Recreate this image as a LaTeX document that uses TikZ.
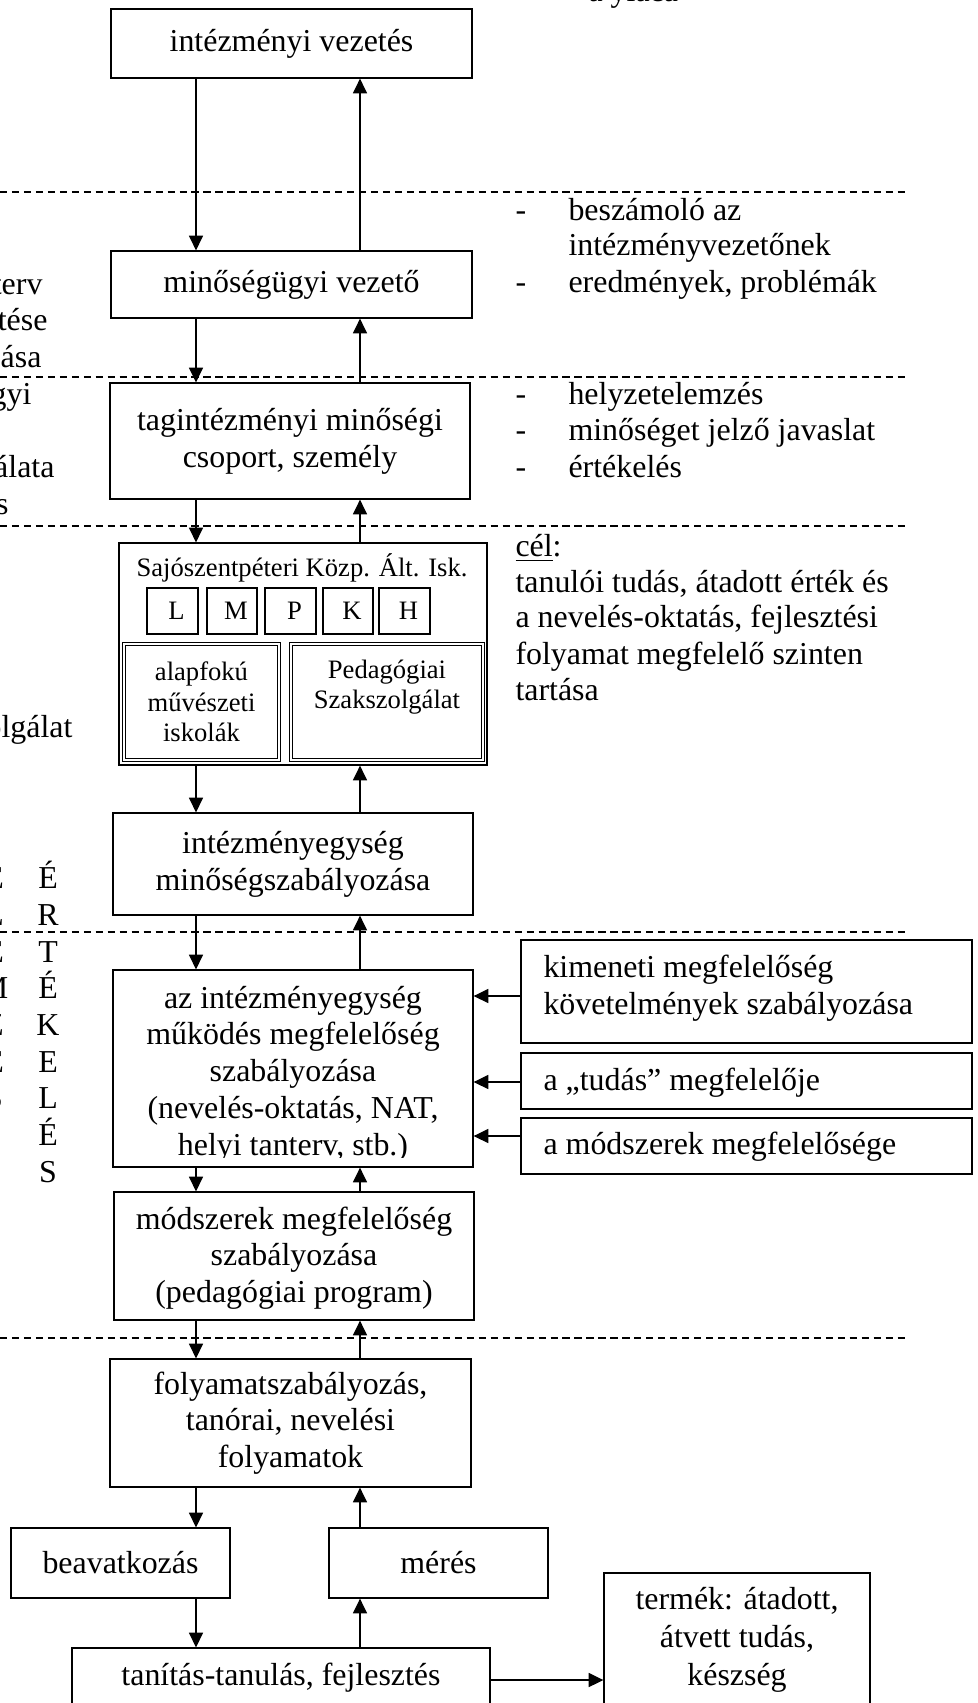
\documentclass[tikz,border=0pt]{standalone}
\usepackage{fontspec}
\setmainfont{Liberation Serif}
\usetikzlibrary{arrows.meta}
\def\U{0.376pt}
\begin{document}
\begin{tikzpicture}[x=0.376pt,y=-0.376pt,
  bx/.style={draw,line width=0.5pt,inner sep=0pt,align=center,font=\fontsize{12}{13.8}\selectfont},
  txt/.style={inner sep=0pt,align=center,font=\fontsize{12}{13.8}\selectfont},
  ltxt/.style={inner sep=0pt,align=left,font=\fontsize{12}{13.8}\selectfont},
  sm/.style={inner sep=0pt,align=center,font=\fontsize{10}{11.5}\selectfont},
  smbx/.style={draw,line width=0.5pt,inner sep=0pt,font=\fontsize{10}{11.5}\selectfont},
  dbl/.style={draw,line width=0.4pt,double,double distance=0.6pt,inner sep=0pt,align=center,font=\fontsize{10}{11.5}\selectfont},
  arr/.style={-{Triangle[width=5.3pt,length=5.5pt]},line width=0.5pt},
  sepline/.style={line width=0.55pt,dash pattern=on 2.7pt off 1.8pt}]
\useasboundingbox (0,0) rectangle (978,1703);

% separators
\foreach \yy [count=\k] in {192,377,526,932,1338}{
  \coordinate (s\k a) at (0,\yy);
  \coordinate (s\k b) at (905,\yy);
  \draw[sepline] (s\k a) -- (s\k b);
}

% column coordinates
\coordinate (L) at (196,0);
\coordinate (R) at (360,0);

% main boxes
\node[bx, minimum width=361*\U, minimum height=69*\U] (iv) at (291.5,43.5) {intézményi vezetés};
\node[bx, minimum width=361*\U, minimum height=67*\U] (mv) at (291.5,284.5) {minőségügyi vezető};
\node[bx, minimum width=360*\U, minimum height=116*\U] (tm) at (290,441) {tagintézményi minőségi\\csoport, személy};

\node[bx, minimum width=368*\U, minimum height=222*\U] (sk) at (303,654) {};
\node[sm, anchor=base] (skt) at (302,576) {Sajószentpéteri Közp. Ált. Isk.};
\node[smbx, minimum width=51*\U, minimum height=46*\U] (bL) at (172.5,611) {\kern3pt L};
\node[smbx, minimum width=50*\U, minimum height=46*\U] (bM) at (232,611) {\kern3pt M};
\node[smbx, minimum width=51*\U, minimum height=46*\U] (bP) at (290.5,611) {\kern3pt P};
\node[smbx, minimum width=50*\U, minimum height=46*\U] (bK) at (348,611) {\kern3pt K};
\node[smbx, minimum width=51*\U, minimum height=46*\U] (bH) at (404.5,611) {\kern3pt H};
\node[dbl, minimum width=155*\U, minimum height=116*\U] (af) at (201.5,702) {alapfokú\\művészeti\\iskolák};
\node[dbl, minimum width=192*\U, minimum height=116*\U] (ps) at (387,702) {};
\node[sm] (pst) at (387,687) {Pedagógiai\\Szakszolgálat};

\node[bx, minimum width=360*\U, minimum height=102*\U] (im) at (293,864) {intézményegység\\minőségszabályozása};

\node[bx, minimum width=360*\U, minimum height=197*\U] (az) at (293,1068.5) {};
\begin{scope}
  \clip (113,970) rectangle (473,1157);
  \node[txt] (azt) at (293,1074) {az intézményegység\\működés megfelelőség\\szabályozása\\(nevelés-oktatás, NAT,\\helyi tanterv, stb.)};
\end{scope}

\node[bx, minimum width=360*\U, minimum height=128*\U] (ms) at (294,1256) {};
\begin{scope}
  \clip (114,1192) rectangle (474,1308);
  \node[txt] (mst) at (294,1258) {módszerek megfelelőség\\szabályozása\\(pedagógiai program)};
\end{scope}

\node[bx, minimum width=361*\U, minimum height=128*\U] (fo) at (290.5,1423) {folyamatszabályozás,\\tanórai, nevelési\\folyamatok};
\node[bx, minimum width=219*\U, minimum height=70*\U] (be) at (120.5,1563) {beavatkozás};
\node[bx, minimum width=219*\U, minimum height=70*\U] (me) at (438.5,1563) {mérés};
\node[bx, minimum width=418*\U, minimum height=80*\U] (tt) at (281,1688) {};
\node[txt] (ttt) at (281,1678) {tanítás-tanulás, fejlesztés};
\node[bx, minimum width=266*\U, minimum height=160*\U] (te) at (737,1653) {};
\node[txt, font=\fontsize{12}{14.3}\selectfont] (tet) at (737,1640) {termék: átadott,\\átvett tudás,\\készség};

% right boxes
\node[bx, minimum width=451*\U, minimum height=103*\U] (km) at (746.5,991.5) {};
\node[ltxt, anchor=west] (kmt) at (543,988.5) {kimeneti megfelelőség\\követelmények szabályozása};
\node[bx, minimum width=451*\U, minimum height=56*\U] (tu) at (746.5,1081) {};
\node[ltxt, anchor=base west] (tut) at (543,1090) {a „tudás” megfelelője};
\node[bx, minimum width=451*\U, minimum height=56*\U] (mo) at (746.5,1146) {};
\node[ltxt, anchor=base west] (mot) at (543,1154) {a módszerek megfelelősége};

% vertical arrows
\draw[arr] (L |- iv.south) -- (L |- mv.north);
\draw[arr] (R |- mv.north) -- (R |- iv.south);
\draw[arr] (L |- mv.south) -- (L |- tm.north);
\draw[arr] (R |- tm.north) -- (R |- mv.south);
\draw[arr] (L |- tm.south) -- (L |- sk.north);
\draw[arr] (R |- sk.north) -- (R |- tm.south);
\draw[arr] (L |- sk.south) -- (L |- im.north);
\draw[arr] (R |- im.north) -- (R |- sk.south);
\draw[arr] (L |- im.south) -- (L |- az.north);
\draw[arr] (R |- az.north) -- (R |- im.south);
\draw[arr] (L |- az.south) -- (L |- ms.north);
\draw[arr] (R |- ms.north) -- (R |- az.south);
\draw[arr] (L |- ms.south) -- (L |- fo.north);
\draw[arr] (R |- fo.north) -- (R |- ms.south);
\draw[arr] (L |- fo.south) -- (L |- be.north);
\draw[arr] (R |- me.north) -- (R |- fo.south);
\draw[arr] (L |- be.south) -- (L |- tt.north);
\draw[arr] (R |- tt.north) -- (R |- me.south);

% horizontal arrows
\coordinate (h1) at (0,996);
\coordinate (h2) at (0,1082);
\coordinate (h3) at (0,1136);
\coordinate (h4) at (0,1680);
\draw[arr] (km.west |- h1) -- (az.east |- h1);
\draw[arr] (tu.west |- h2) -- (az.east |- h2);
\draw[arr] (mo.west |- h3) -- (az.east |- h3);
\draw[arr] (tt.east |- h4) -- (te.west |- h4);

% right-hand notes
\node[ltxt, anchor=base west] (d1) at (515,220) {-};
\node[ltxt, anchor=base west] (n1) at (568,220) {beszámoló az};
\node[ltxt, anchor=base west] (n2) at (568,255) {intézményvezetőnek};
\node[ltxt, anchor=base west] (d2) at (515,292) {-};
\node[ltxt, anchor=base west] (n3) at (568,292) {eredmények, problémák};
\node[ltxt, anchor=base west] (d3) at (515,404) {-};
\node[ltxt, anchor=base west] (n4) at (568,404) {helyzetelemzés};
\node[ltxt, anchor=base west] (d4) at (515,440) {-};
\node[ltxt, anchor=base west] (n5) at (568,440) {minőséget jelző javaslat};
\node[ltxt, anchor=base west] (d5) at (515,477) {-};
\node[ltxt, anchor=base west] (n6) at (568,477) {értékelés};
\node[ltxt, anchor=base west] (c0) at (515,556) {\underline{cél}:};
\node[ltxt, anchor=base west] (c1) at (515,592) {tanulói tudás, átadott érték és};
\node[ltxt, anchor=base west] (c2) at (515,627) {a nevelés-oktatás, fejlesztési};
\node[ltxt, anchor=base west] (c3) at (515,664) {folyamat megfelelő szinten};
\node[ltxt, anchor=base west] (c4) at (515,700) {tartása};

% top cut fragment
\node[ltxt, anchor=base west] (topf) at (588,1.5) {a yiaca};

% left cut fragments
\node[ltxt, anchor=base east] (f1) at (43,294) {terv};
\node[ltxt, anchor=base east] (f2) at (48,330) {tése};
\node[ltxt, anchor=base east] (f3) at (42,367) {ása};
\node[ltxt, anchor=base east] (f4) at (32,404) {gyi};
\node[ltxt, anchor=base east] (f5) at (55,477) {álata};
\node[ltxt, anchor=base east] (f6) at (9,514) {s};
\node[ltxt, anchor=base east] (f7) at (73,737) {olgálat};

% vertical words
\foreach \ch [count=\i] in {É,R,T,É,K,E,L,É,S}{
  \node[txt, anchor=base] (e\i) at (48,{888.6+36.7*(\i-1)}) {\ch};
}
\foreach \ch [count=\i] in {E,L,E,M,Z,É,S}{
  \node[txt, anchor=base] (g\i) at (-6,{888.6+36.7*(\i-1)}) {\ch};
}
\end{tikzpicture}
\end{document}
